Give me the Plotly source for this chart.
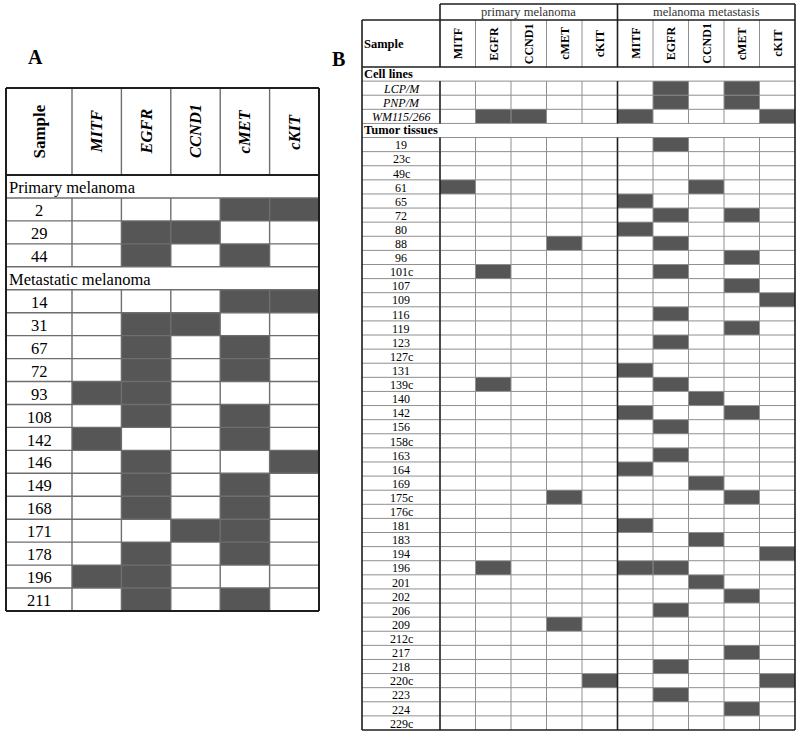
import plotly.graph_objects as go

W, H = 800, 736
SERIF = "Liberation Serif, Times New Roman, serif"
DARK = "#565656"
GRID = "#8f8f8f"
EDGE = "#1e1e1e"

# ---- panel A data ----
a_genes = ["MITF", "EGFR", "CCND1", "cMET", "cKIT"]
a_primary_samples = ["2", "29", "44"]
a_primary_calls = [[0, 0, 0, 1, 1],
                   [0, 1, 1, 0, 0],
                   [0, 1, 0, 1, 0]]
a_metastatic_samples = ["14", "31", "67", "72", "93", "108", "142", "146",
                        "149", "168", "171", "178", "196", "211"]
a_metastatic_calls = [[0, 0, 0, 1, 1],
                      [0, 1, 1, 0, 0],
                      [0, 1, 0, 1, 0],
                      [0, 1, 0, 1, 0],
                      [1, 1, 0, 0, 0],
                      [0, 1, 0, 1, 0],
                      [1, 0, 0, 1, 0],
                      [0, 1, 0, 0, 1],
                      [0, 1, 0, 1, 0],
                      [0, 1, 0, 1, 0],
                      [0, 0, 1, 1, 0],
                      [0, 1, 0, 1, 0],
                      [1, 1, 0, 0, 0],
                      [0, 1, 0, 1, 0]]

# ---- panel B data ----
b_genes = ["MITF", "EGFR", "CCND1", "cMET", "cKIT"]
b_stages = ["primary melanoma", "melanoma metastasis"]
b_cell_lines = ["LCP/M", "PNP/M", "WM115/266"]
b_cell_calls = [[0, 0, 0, 0, 0, 0, 1, 0, 1, 0],
                [0, 0, 0, 0, 0, 0, 1, 0, 1, 0],
                [0, 1, 1, 0, 0, 1, 0, 0, 0, 1]]
b_tumors = ["19", "23c", "49c", "61", "65", "72", "80", "88", "96", "101c",
            "107", "109", "116", "119", "123", "127c", "131", "139c", "140", "142",
            "156", "158c", "163", "164", "169", "175c", "176c", "181", "183", "194",
            "196", "201", "202", "206", "209", "212c", "217", "218", "220c", "223",
            "224", "229c"]
b_tumor_calls = [[0, 0, 0, 0, 0, 0, 1, 0, 0, 0],
                 [0, 0, 0, 0, 0, 0, 0, 0, 0, 0],
                 [0, 0, 0, 0, 0, 0, 0, 0, 0, 0],
                 [1, 0, 0, 0, 0, 0, 0, 1, 0, 0],
                 [0, 0, 0, 0, 0, 1, 0, 0, 0, 0],
                 [0, 0, 0, 0, 0, 0, 1, 0, 1, 0],
                 [0, 0, 0, 0, 0, 1, 0, 0, 0, 0],
                 [0, 0, 0, 1, 0, 0, 1, 0, 0, 0],
                 [0, 0, 0, 0, 0, 0, 0, 0, 1, 0],
                 [0, 1, 0, 0, 0, 0, 1, 0, 0, 0],
                 [0, 0, 0, 0, 0, 0, 0, 0, 1, 0],
                 [0, 0, 0, 0, 0, 0, 0, 0, 0, 1],
                 [0, 0, 0, 0, 0, 0, 1, 0, 0, 0],
                 [0, 0, 0, 0, 0, 0, 0, 0, 1, 0],
                 [0, 0, 0, 0, 0, 0, 1, 0, 0, 0],
                 [0, 0, 0, 0, 0, 0, 0, 0, 0, 0],
                 [0, 0, 0, 0, 0, 1, 0, 0, 0, 0],
                 [0, 1, 0, 0, 0, 0, 1, 0, 0, 0],
                 [0, 0, 0, 0, 0, 0, 0, 1, 0, 0],
                 [0, 0, 0, 0, 0, 1, 0, 0, 1, 0],
                 [0, 0, 0, 0, 0, 0, 1, 0, 0, 0],
                 [0, 0, 0, 0, 0, 0, 0, 0, 0, 0],
                 [0, 0, 0, 0, 0, 0, 1, 0, 0, 0],
                 [0, 0, 0, 0, 0, 1, 0, 0, 0, 0],
                 [0, 0, 0, 0, 0, 0, 0, 1, 0, 0],
                 [0, 0, 0, 1, 0, 0, 0, 0, 1, 0],
                 [0, 0, 0, 0, 0, 0, 0, 0, 0, 0],
                 [0, 0, 0, 0, 0, 1, 0, 0, 0, 0],
                 [0, 0, 0, 0, 0, 0, 0, 1, 0, 0],
                 [0, 0, 0, 0, 0, 0, 0, 0, 0, 1],
                 [0, 1, 0, 0, 0, 1, 1, 0, 0, 0],
                 [0, 0, 0, 0, 0, 0, 0, 1, 0, 0],
                 [0, 0, 0, 0, 0, 0, 0, 0, 1, 0],
                 [0, 0, 0, 0, 0, 0, 1, 0, 0, 0],
                 [0, 0, 0, 1, 0, 0, 0, 0, 0, 0],
                 [0, 0, 0, 0, 0, 0, 0, 0, 0, 0],
                 [0, 0, 0, 0, 0, 0, 0, 0, 1, 0],
                 [0, 0, 0, 0, 0, 0, 1, 0, 0, 0],
                 [0, 0, 0, 0, 1, 0, 0, 0, 0, 1],
                 [0, 0, 0, 0, 0, 0, 1, 0, 0, 0],
                 [0, 0, 0, 0, 0, 0, 0, 0, 1, 0],
                 [0, 0, 0, 0, 0, 0, 0, 0, 0, 0]]


def table_rows(groups):
    # flatten (group label, samples, calls) into one list of rows
    rows = []
    for label, samples, calls in groups:
        rows.append(("group", label, None))
        for s, c in zip(samples, calls):
            rows.append(("sample", s, c))
    return rows


def axis_pair(box, units, pad=3):
    # box: pixel left/right/top/bottom; units: data x0/x1/y0(top)/y1(bottom)
    left, right, top, bottom = box
    x0, x1, y0, y1 = units
    dx = pad * (x1 - x0) / (right - left)
    dy = pad * (y1 - y0) / (bottom - top)
    xaxis = dict(domain=[(left - pad) / W, (right + pad) / W], range=[x0 - dx, x1 + dx],
                 visible=False, fixedrange=True)
    yaxis = dict(domain=[1 - (bottom + pad) / H, 1 - (top - pad) / H], range=[y1 + dy, y0 - dy],
                 visible=False, fixedrange=True)
    return xaxis, yaxis


def seg(store, x0, x1, y0, y1):
    store[0] += [x0, x1, None]
    store[1] += [y0, y1, None]


def lines_trace(store, color, width, xa, ya):
    return go.Scatter(x=store[0], y=store[1], mode="lines", xaxis=xa, yaxis=ya,
                      line=dict(color=color, width=width), hoverinfo="skip", showlegend=False)


def heat_trace(rows, ncols, xa, ya):
    z = [r[2] if r[0] == "sample" else [None] * ncols for r in rows]
    return go.Heatmap(z=z, x=[i + 0.5 for i in range(ncols)], y=[i + 0.5 for i in range(len(rows))],
                      xaxis=xa, yaxis=ya, zmin=0, zmax=1, colorscale=[[0, "white"], [1, DARK]],
                      showscale=False, hoverinfo="skip")


fig = go.Figure()
ann = []

# ================= panel A =================
a_rows = table_rows([("Primary melanoma", a_primary_samples, a_primary_calls),
                     ("Metastatic melanoma", a_metastatic_samples, a_metastatic_calls)])
na, nca = len(a_rows), len(a_genes)
a_box = (6, 319, 88, 611)
a_head_px, a_sample_px = 87, 66
a_row_px = (a_box[3] - a_box[2] - a_head_px) / na
a_col_px = (a_box[1] - a_box[0] - a_sample_px) / nca
a_head = a_head_px / a_row_px
a_samp = a_sample_px / a_col_px
xa_a, ya_a = axis_pair(a_box, (-a_samp, nca, -a_head, na))

fig.add_trace(heat_trace(a_rows, nca, "x", "y"))

grid, edge = [[], []], [[], []]
for k in range(1, na):
    seg(grid, -a_samp, nca, k, k)
seg(edge, -a_samp, nca, 0, 0)
for c in range(nca):
    seg(grid, c, c, -a_head, 0)
    for r, row in enumerate(a_rows):
        if row[0] == "sample":
            seg(grid, c, c, r, r + 1)
seg(edge, -a_samp, nca, -a_head, -a_head)
seg(edge, -a_samp, nca, na, na)
seg(edge, -a_samp, -a_samp, -a_head, na)
seg(edge, nca, nca, -a_head, na)
fig.add_trace(lines_trace(grid, "#6e6e6e", 1.4, "x", "y"))
fig.add_trace(lines_trace(edge, EDGE, 2, "x", "y"))

a_font = dict(family=SERIF, size=16.5, color="black")
ann.append(dict(x=-a_samp / 2, y=-a_head / 2, xref="x", yref="y", text="<b>Sample</b>",
                textangle=-90, showarrow=False, font=dict(family=SERIF, size=17, color="black")))
for c, g in enumerate(a_genes):
    ann.append(dict(x=c + 0.5, y=-a_head / 2, xref="x", yref="y", text="<b><i>%s</i></b>" % g,
                    textangle=-90, showarrow=False, font=a_font))
for r, row in enumerate(a_rows):
    if row[0] == "group":
        ann.append(dict(x=-a_samp, y=r + 0.55, xref="x", yref="y", text=row[1], xanchor="left",
                        xshift=1, showarrow=False, font=a_font))
    else:
        ann.append(dict(x=-a_samp / 2, y=r + 0.55, xref="x", yref="y", text=row[1],
                        showarrow=False, font=a_font))

# ================= panel B =================
b_rows = table_rows([("Cell lines", b_cell_lines, b_cell_calls),
                     ("Tumor tissues", b_tumors, b_tumor_calls)])
nb, ncb = len(b_rows), 2 * len(b_genes)
b_box = (362, 795, 4, 730)
b_grp_px, b_head_px, b_sample_px = 16, 47, 78
b_row_px = (b_box[3] - b_box[2] - b_grp_px - b_head_px) / nb
b_col_px = (b_box[1] - b_box[0] - b_sample_px) / ncb
b_grp = b_grp_px / b_row_px
b_head = b_head_px / b_row_px
b_samp = b_sample_px / b_col_px
b_top = -b_head - b_grp
xa_b, ya_b = axis_pair(b_box, (-b_samp, ncb, b_top, nb))

fig.add_trace(heat_trace(b_rows, ncb, "x2", "y2"))

grid, edge = [[], []], [[], []]
for k in range(1, nb):
    seg(grid, -b_samp, ncb, k, k)
seg(edge, -b_samp, ncb, 0, 0)
seg(edge, -b_samp, ncb, -b_head, -b_head)
seg(edge, 0, ncb, b_top, b_top)
seg(edge, -b_samp, ncb, nb, nb)
seg(edge, -b_samp, -b_samp, -b_head, nb)
seg(edge, ncb, ncb, b_top, nb)
half = len(b_genes)
for c in range(ncb):
    store = edge if c in (0, half) else grid
    seg(store, c, c, b_top if c in (0, half) else -b_head, 0)
    for r, row in enumerate(b_rows):
        if row[0] == "sample":
            seg(store, c, c, r, r + 1)
fig.add_trace(lines_trace(grid, GRID, 1, "x2", "y2"))
fig.add_trace(lines_trace(edge, EDGE, 1.6, "x2", "y2"))

b_font = dict(family=SERIF, size=12.5, color="black")
for s, stage in enumerate(b_stages):
    ann.append(dict(x=half * s + half / 2, y=b_top + b_grp / 2, xref="x2", yref="y2", text=stage,
                    showarrow=False, font=dict(family=SERIF, size=12.5, color="#333333")))
ann.append(dict(x=-b_samp, y=-b_head / 2, xref="x2", yref="y2", text="<b>Sample</b>",
                xanchor="left", showarrow=False, font=b_font))
for c in range(ncb):
    ann.append(dict(x=c + 0.5, y=-b_head / 2, xref="x2", yref="y2", text="<b>%s</b>" % b_genes[c % half],
                    textangle=-90, showarrow=False, font=dict(family=SERIF, size=12, color="black")))
for r, row in enumerate(b_rows):
    if row[0] == "group":
        ann.append(dict(x=-b_samp, y=r + 0.5, xref="x2", yref="y2", text="<b>%s</b>" % row[1],
                        xanchor="left", showarrow=False, font=b_font))
    else:
        txt = "<i>%s</i>" % row[1] if row[1] in b_cell_lines else row[1]
        ann.append(dict(x=-b_samp / 2, y=r + 0.55, xref="x2", yref="y2", text=txt,
                        showarrow=False, font=dict(family=SERIF, size=12, color="black")))

# panel letters
ann.append(dict(x=25.5 / W, y=1 - 44 / H, xref="paper", yref="paper", text="<b>A</b>",
                showarrow=False, font=dict(family=SERIF, size=20, color="black")))
ann.append(dict(x=338 / W, y=1 - 46.5 / H, xref="paper", yref="paper", text="<b>B</b>",
                showarrow=False, font=dict(family=SERIF, size=20, color="black")))

fig.update_layout(width=W, height=H, margin=dict(l=0, r=0, t=0, b=0), showlegend=False,
                  paper_bgcolor="white", plot_bgcolor="white", dragmode=False, hovermode=False,
                  xaxis=xa_a, yaxis=ya_a, xaxis2=xa_b, yaxis2=ya_b, annotations=ann)

# the page's default body margin would push the figure off the 800x736 window
fig.write_html("out.html", config={"displayModeBar": False},
               post_script="document.body.style.margin='0';document.body.style.overflow='hidden';")
